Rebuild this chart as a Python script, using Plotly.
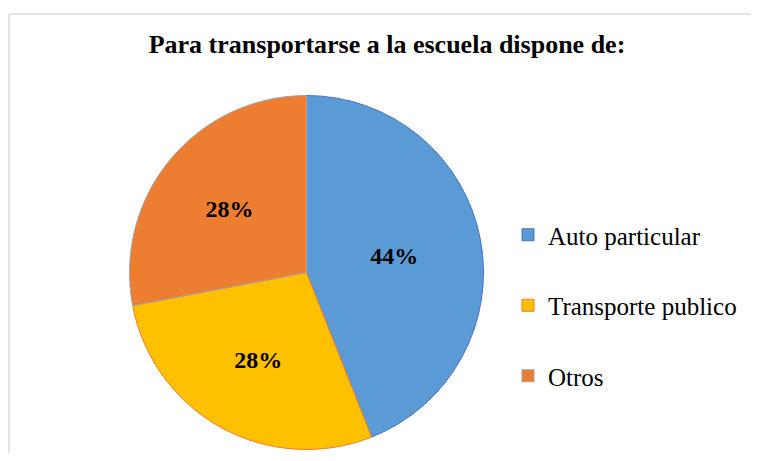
import plotly.graph_objects as go

# datos del gráfico
categorias = ['Auto particular', 'Transporte publico', 'Otros']
valores = [44, 28, 28]
colores = ['#5B9BD5', '#FFC000', '#ED7D31']
bordes = ['#4472C4', '#ED7D31', '#A5A5A5']
titulo = 'Para transportarse a la escuela dispone de:'

# la página tiene 8px de margen, la figura se ajusta para no desbordar
OFF = 8
W, H = 759 - 2 * OFF, 461 - 2 * OFF
serif = 'Liberation Serif, Times New Roman, serif'


def px(x):
    return (x - OFF) / W


def py(y):
    return 1 - (y - OFF) / H


fig = go.Figure()

# pastel
fig.add_trace(go.Pie(
    labels=categorias, values=valores,
    marker=dict(colors=colores, line=dict(color=bordes, width=1)),
    sort=False, direction='clockwise', rotation=0,
    textinfo='percent', textposition='inside',
    insidetextorientation='horizontal',
    textfont=dict(family=serif, size=24, color='black', weight='bold'),
    showlegend=False,
    domain=dict(x=[px(129.5), px(483.5)], y=[py(449.5), py(95.5)]),
))

# leyenda (una entrada por categoría)
for i, (cat, col, bor) in enumerate(zip(categorias, colores, bordes)):
    fig.add_trace(go.Scatter(
        x=[None], y=[None], mode='markers', name=cat,
        legendgroup=f'g{i}',
        marker=dict(symbol='square', size=12, color=col, line=dict(color=bor, width=1)),
    ))

fig.update_layout(
    width=W, height=H,
    margin=dict(l=0, r=0, t=0, b=0),
    paper_bgcolor='white', plot_bgcolor='white',
    xaxis=dict(visible=False), yaxis=dict(visible=False),
    title=dict(text=f'<b>{titulo}</b>', x=px(387), xanchor='center',
               y=py(44), yanchor='middle', yref='container',
               font=dict(family=serif, size=26, color='black')),
    legend=dict(x=px(548 - 40), xanchor='left', y=py(212), yanchor='top',
                font=dict(family=serif, size=25, color='black'),
                tracegroupgap=35, bgcolor='rgba(0,0,0,0)'),
    shapes=[
        dict(type='line', xref='paper', yref='paper', x0=px(9), x1=1, y0=py(14), y1=py(14),
             line=dict(color='#E3E3E3', width=2)),
        dict(type='line', xref='paper', yref='paper', x0=px(9), x1=px(9), y0=0, y1=py(14),
             line=dict(color='#E3E3E3', width=2)),
    ],
)

fig.write_html('out.html')
